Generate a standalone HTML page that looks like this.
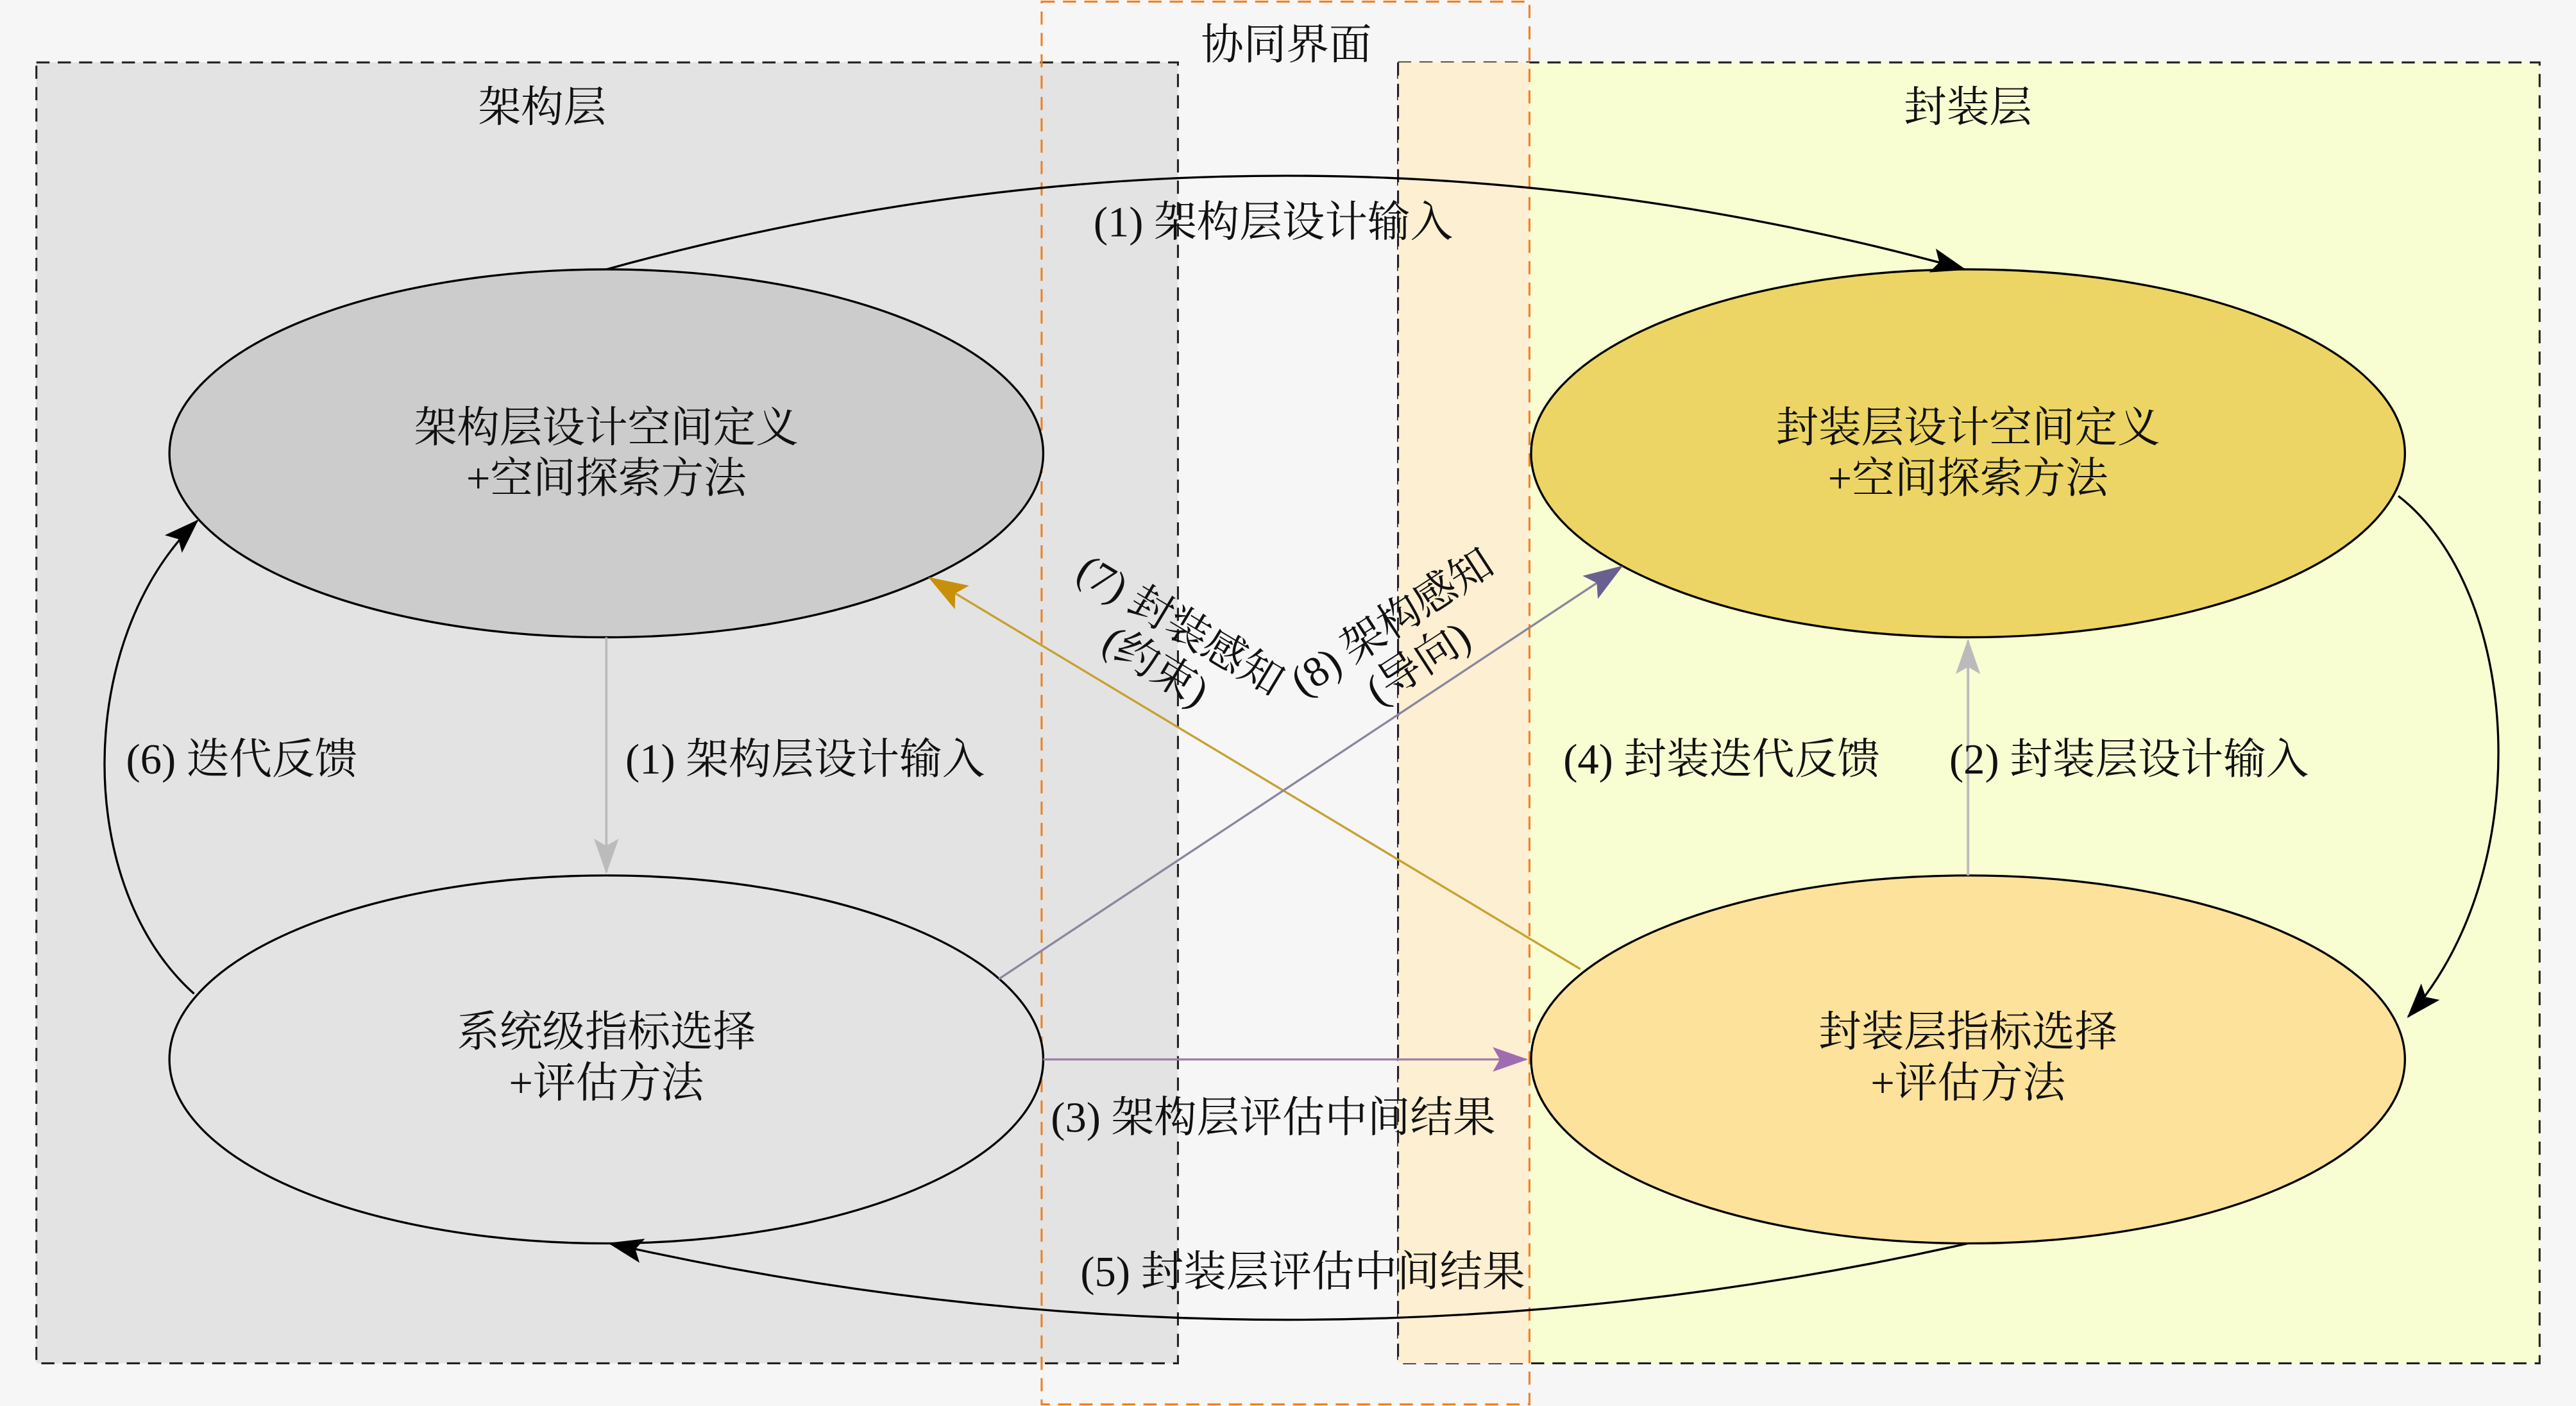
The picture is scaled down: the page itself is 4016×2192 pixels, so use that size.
<!DOCTYPE html>
<html><head><meta charset="utf-8"><style>
html,body{margin:0;padding:0;background:#f6f6f6;}
svg{display:block;}
text{font-family:"Liberation Serif","Noto Serif CJK SC",serif;font-size:26px;fill:#111;}
</style></head><body>
<svg width="4016" height="2192" viewBox="0 0 1568 856" xmlns="http://www.w3.org/2000/svg">
<defs>
<marker id="ab" viewBox="0 0 20 14" refX="19" refY="7" markerWidth="22" markerHeight="15" orient="auto" markerUnits="userSpaceOnUse"><path d="M0,0 L20,7 L0,14 L4,7 z" fill="#000"/></marker>
<marker id="ag" viewBox="0 0 20 14" refX="19" refY="7" markerWidth="22" markerHeight="15" orient="auto" markerUnits="userSpaceOnUse"><path d="M0,0 L20,7 L0,14 L4,7 z" fill="#bbb"/></marker>
<marker id="ap" viewBox="0 0 20 14" refX="19" refY="7" markerWidth="22" markerHeight="15" orient="auto" markerUnits="userSpaceOnUse"><path d="M0,0 L20,7 L0,14 L4,7 z" fill="#a06cb0"/></marker>
<marker id="ao" viewBox="0 0 20 14" refX="19" refY="7" markerWidth="24" markerHeight="17" orient="auto" markerUnits="userSpaceOnUse"><path d="M0,0 L20,7 L0,14 L4,7 z" fill="#c8900a"/></marker>
<marker id="av" viewBox="0 0 20 14" refX="19" refY="7" markerWidth="24" markerHeight="17" orient="auto" markerUnits="userSpaceOnUse"><path d="M0,0 L20,7 L0,14 L4,7 z" fill="#6a6090"/></marker>
</defs>
<rect width="1568" height="856" fill="#f6f6f6"/>
<rect x="22" y="38" width="695" height="792" fill="#e3e3e3" stroke="#222" stroke-width="1.2" stroke-dasharray="8,5"/>
<rect x="851" y="38" width="695" height="792" fill="#f8fdd2" stroke="#222" stroke-width="1.2" stroke-dasharray="8,5"/>
<rect x="851" y="38" width="80" height="792" fill="#fdefd2"/>
<line x1="851" y1="38" x2="851" y2="830" stroke="#222" stroke-width="1.2" stroke-dasharray="8,5"/>
<rect x="634" y="1" width="297" height="854" fill="none" stroke="#f08020" stroke-width="1.2" stroke-dasharray="8,5"/>
<text x="783" y="36" text-anchor="middle">协同界面</text>
<text x="330" y="74" text-anchor="middle">架构层</text>
<text x="1198" y="74" text-anchor="middle">封装层</text>

<ellipse cx="369" cy="276" rx="266" ry="112" fill="#cccccc" stroke="#000" stroke-width="1.3"/>
<ellipse cx="1198" cy="276" rx="266" ry="112" fill="#ecd564" stroke="#000" stroke-width="1.3"/>
<ellipse cx="369" cy="645" rx="266" ry="112" fill="#e3e3e3" stroke="#000" stroke-width="1.3"/>
<ellipse cx="1198" cy="645" rx="266" ry="112" fill="#fde29c" stroke="#000" stroke-width="1.3"/>
<text x="369" y="269" text-anchor="middle">架构层设计空间定义</text>
<text x="369" y="300" text-anchor="middle">+空间探索方法</text>
<text x="1198" y="269" text-anchor="middle">封装层设计空间定义</text>
<text x="1198" y="300" text-anchor="middle">+空间探索方法</text>
<text x="369" y="637" text-anchor="middle">系统级指标选择</text>
<text x="369" y="668" text-anchor="middle">+评估方法</text>
<text x="1198" y="637" text-anchor="middle">封装层指标选择</text>
<text x="1198" y="668" text-anchor="middle">+评估方法</text>

<path d="M369,164 Q783,50 1196,164" fill="none" stroke="#000" stroke-width="1.3" marker-end="url(#ab)"/>
<text x="775" y="144" text-anchor="middle">(1) 架构层设计输入</text>
<line x1="369" y1="388" x2="369" y2="531" stroke="#bbb" stroke-width="1.5" marker-end="url(#ag)"/>
<text x="490" y="471" text-anchor="middle">(1) 架构层设计输入</text>
<line x1="1198" y1="533" x2="1198" y2="390" stroke="#bbb" stroke-width="1.5" marker-end="url(#ag)"/>
<text x="1296" y="471" text-anchor="middle">(2) 封装层设计输入</text>
<text x="1048" y="471" text-anchor="middle">(4) 封装迭代反馈</text>
<path d="M1460,302 C1535,360 1545,530 1466,619" fill="none" stroke="#000" stroke-width="1.3" marker-end="url(#ab)"/>
<path d="M118,605 C45,540 45,390 120,317" fill="none" stroke="#000" stroke-width="1.3" marker-end="url(#ab)"/>
<text x="147" y="471" text-anchor="middle">(6) 迭代反馈</text>
<line x1="635" y1="645" x2="929" y2="645" stroke="#a080a8" stroke-width="1.3" marker-end="url(#ap)"/>
<text x="775" y="689" text-anchor="middle">(3) 架构层评估中间结果</text>
<path d="M1198,757 Q783,850 371,757" fill="none" stroke="#000" stroke-width="1.3" marker-end="url(#ab)"/>
<text x="793" y="783" text-anchor="middle">(5) 封装层评估中间结果</text>
<line x1="962" y1="590" x2="566" y2="352" stroke="#c8a030" stroke-width="1.3" marker-end="url(#ao)"/>
<line x1="608" y1="596" x2="987" y2="345" stroke="#8a86a0" stroke-width="1.3" marker-end="url(#av)"/>
<g transform="translate(714,388) rotate(31)"><text x="0" y="0" text-anchor="middle">(7) 封装感知</text></g>
<g transform="translate(699,413) rotate(31)"><text x="0" y="0" text-anchor="middle">(约束)</text></g>
<g transform="translate(852,386) rotate(-33)"><text x="0" y="0" text-anchor="middle">(8) 架构感知</text></g>
<g transform="translate(868,411) rotate(-33)"><text x="0" y="0" text-anchor="middle">(导向)</text></g>
</svg>
</body></html>
